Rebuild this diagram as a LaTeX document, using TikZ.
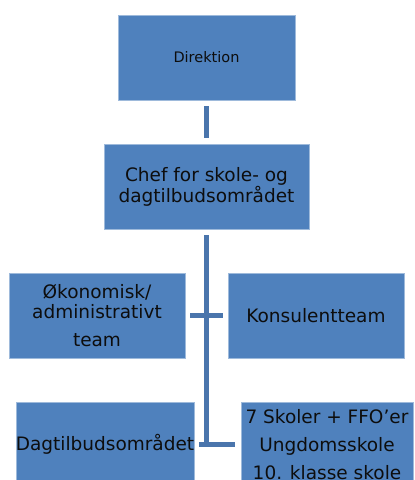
\documentclass[tikz,border=0pt]{standalone}
\usepackage{fontspec}
\setmainfont{DejaVu Sans}
\usetikzlibrary{calc}
\definecolor{boxblue}{HTML}{4F81BD}
\definecolor{linkblue}{HTML}{4A75AC}
\definecolor{txt}{HTML}{0D0D0D}
\begin{document}
\begin{tikzpicture}[x=1pt,y=1pt,
  box/.style={rectangle, fill=boxblue, draw=boxblue!55!white, line width=0.6pt,
    minimum height=85pt, inner sep=0pt, align=center, text=txt,
    font=\fontsize{18.5}{20}\selectfont},
  link/.style={draw=linkblue, line width=5pt}]
\useasboundingbox (0,0) rectangle (415,480);
\clip (0,0) rectangle (415,480);
\node[box, minimum width=177pt, font=\fontsize{14.5}{16}\selectfont] (dir) at (206.5,422.5) {Direktion};
\node[box, minimum width=205pt] (chef) at (206.5,293.5) {Chef for skole- og\\dagtilbudsområdet};
\node[box, minimum width=176pt] (oek) at (97,164.5) {Økonomisk/\\administrativt\\[8pt]team};
\node[box, minimum width=176pt] (kons) at (316,164.5) {Konsulentteam};
\node[box, minimum width=176pt] (dag) at (105,35.5) {Dagtilbudsområdet};
\node[box, minimum width=172pt, font=\fontsize{18.5}{28}\selectfont] (sko) at (327,35.5) {7 Skoler + FFO’er\\Ungdomsskole\\10. klasse skole};
\coordinate (j) at (206.5,33);
\draw[link, shorten <=6pt, shorten >=6pt] (dir) -- (chef);
\draw[link, shorten <=6pt] (chef.south) -- (j);
\draw[link, shorten <=5pt, shorten >=5pt] (oek) -- (kons);
\draw[link, shorten <=5pt, shorten >=6pt] (dag) -- (sko);
\end{tikzpicture}
\end{document}
